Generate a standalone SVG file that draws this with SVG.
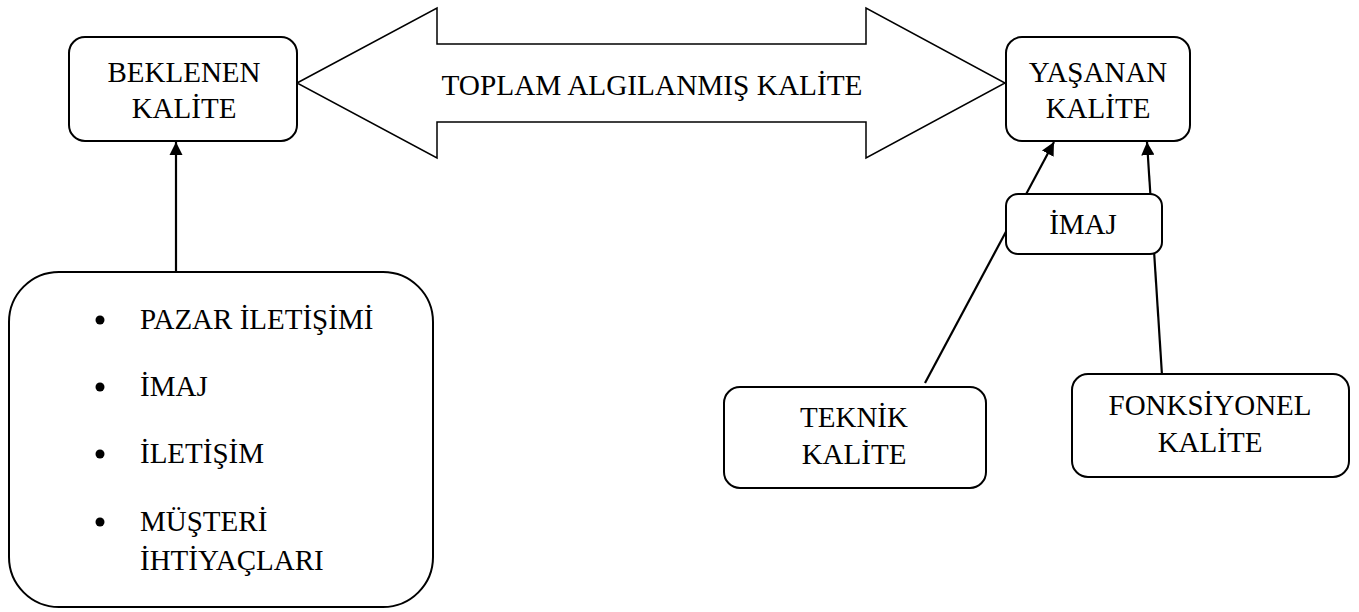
<svg xmlns="http://www.w3.org/2000/svg" width="1359" height="612" viewBox="0 0 1359 612">
<style>
.box{fill:#fff;stroke:#000;stroke-width:2}
.t{font-family:"Liberation Serif","Times New Roman",serif;font-size:29px;fill:#000}
.c{text-anchor:middle}
.ln{stroke:#000;stroke-width:2.2;fill:none}
</style>
<defs>
<marker id="ah" viewBox="0 0 10 10" refX="10" refY="5" markerWidth="6" markerHeight="6" markerUnits="strokeWidth" orient="auto">
<path d="M0,0 L10,5 L0,10 z" fill="#000"/>
</marker>
</defs>
<g id="connectors">
<line class="ln" x1="176" y1="271" x2="176" y2="142" marker-end="url(#ah)"/>
<line class="ln" x1="925" y1="383" x2="1054" y2="142" marker-end="url(#ah)"/>
<line class="ln" x1="1162" y1="375" x2="1147" y2="142" marker-end="url(#ah)"/>
</g>
<g id="double-arrow">
<path d="M297,83 L437,8 L437,44 L866,44 L866,8 L1005,83 L866,158 L866,122 L437,122 L437,158 Z" fill="#fff" stroke="#000" stroke-width="1.5" stroke-linejoin="miter"/>
<text class="t c" x="652" y="95" style="font-size:30px" textLength="421" lengthAdjust="spacingAndGlyphs">TOPLAM ALGILANMIŞ KALİTE</text>
</g>
<g id="beklenen">
<rect class="box" x="69" y="37" width="228" height="104" rx="16"/>
<text class="t c" x="184" y="82">BEKLENEN</text>
<text class="t c" x="184" y="118">KALİTE</text>
</g>
<g id="yasanan">
<rect class="box" x="1006" y="37" width="184" height="104" rx="16"/>
<text class="t c" x="1098" y="82">YAŞANAN</text>
<text class="t c" x="1098" y="118">KALİTE</text>
</g>
<g id="imaj">
<rect class="box" x="1006" y="194" width="156" height="60" rx="12"/>
<text class="t c" x="1083" y="234">İMAJ</text>
</g>
<g id="teknik">
<rect class="box" x="724" y="387" width="262" height="101" rx="16"/>
<text class="t c" x="854" y="427">TEKNİK</text>
<text class="t c" x="854" y="464">KALİTE</text>
</g>
<g id="fonksiyonel">
<rect class="box" x="1072" y="374" width="277" height="103" rx="16"/>
<text class="t c" x="1210" y="415">FONKSİYONEL</text>
<text class="t c" x="1210" y="452">KALİTE</text>
</g>
<g id="factors">
<rect class="box" x="9" y="272" width="424" height="335" rx="50"/>
<circle cx="100" cy="320" r="4.5" fill="#000"/>
<circle cx="100" cy="387" r="4.5" fill="#000"/>
<circle cx="100" cy="454" r="4.5" fill="#000"/>
<circle cx="100" cy="522" r="4.5" fill="#000"/>
<text class="t" x="140" y="329">PAZAR İLETİŞİMİ</text>
<text class="t" x="140" y="396">İMAJ</text>
<text class="t" x="140" y="463">İLETİŞİM</text>
<text class="t" x="140" y="531">MÜŞTERİ</text>
<text class="t" x="140" y="570">İHTİYAÇLARI</text>
</g>
</svg>
